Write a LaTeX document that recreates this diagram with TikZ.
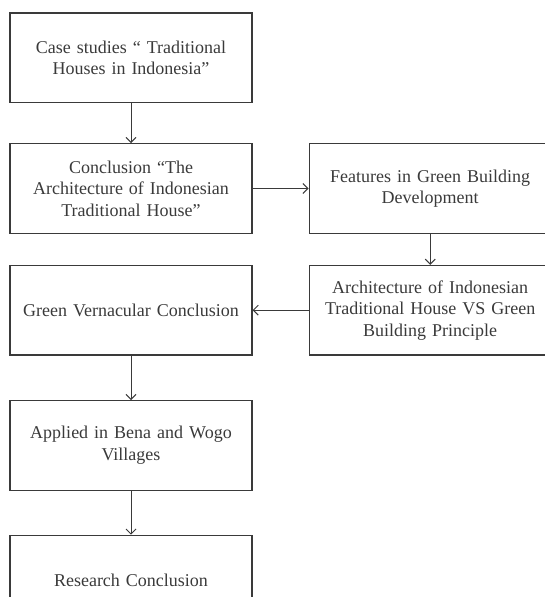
\documentclass[tikz,border=0pt]{standalone}
\usepackage{fontspec}
\setmainfont{Liberation Serif}
\usetikzlibrary{arrows.meta, positioning}
\definecolor{inkgray}{HTML}{3A3A3A}
\tikzset{
  >={Straight Barb[length=5pt, width=10pt]},
  every picture/.style={line cap=round, line join=miter},
  % process box of the flow chart
  stage/.style={draw=inkgray, line width=1.2pt, text=inkgray, text width=236pt,
    minimum width=242pt, minimum height=89.5pt, align=center,
    font=\fontsize{18}{21.5}\selectfont, inner sep=0pt},
  flow/.style={->, inkgray, line width=1pt},
}
\begin{document}
\begin{tikzpicture}[node distance=40pt]
  \useasboundingbox (0,0) rectangle (545pt,-597pt);
  \clip (0,0) rectangle (545pt,-597pt);
  % left column
  \node[stage] (cases) at (131pt,-57.75pt) {Case studies \textquotedblleft\ Traditional\\ Houses in Indonesia\textquotedblright};
  \node[stage, below=of cases] (concl) {Conclusion \textquotedblleft The\\ Architecture of Indonesian\\ Traditional House\textquotedblright};
  % right column
  \node[stage, right=56pt of concl] (features) {Features in Green Building\\ Development};
  \node[stage, below=31pt of features] (versus) {Architecture of Indonesian\\ Traditional House VS Green\\ Building Principle};
  % back to the left column
  \node[stage, left=56pt of versus] (vernac) {Green Vernacular Conclusion};
  \node[stage, below=44.5pt of vernac] (applied) {Applied in Bena and Wogo\\ Villages};
  \node[stage, below=44pt of applied] (research) {Research Conclusion};
  % connectors
  \draw[flow] (cases) -- (concl);
  \draw[flow] (concl) -- (features);
  \draw[flow] (features) -- (versus);
  \draw[flow] (versus) -- (vernac);
  \draw[flow] (vernac) -- (applied);
  \draw[flow] (applied) -- (research);
\end{tikzpicture}
\end{document}
